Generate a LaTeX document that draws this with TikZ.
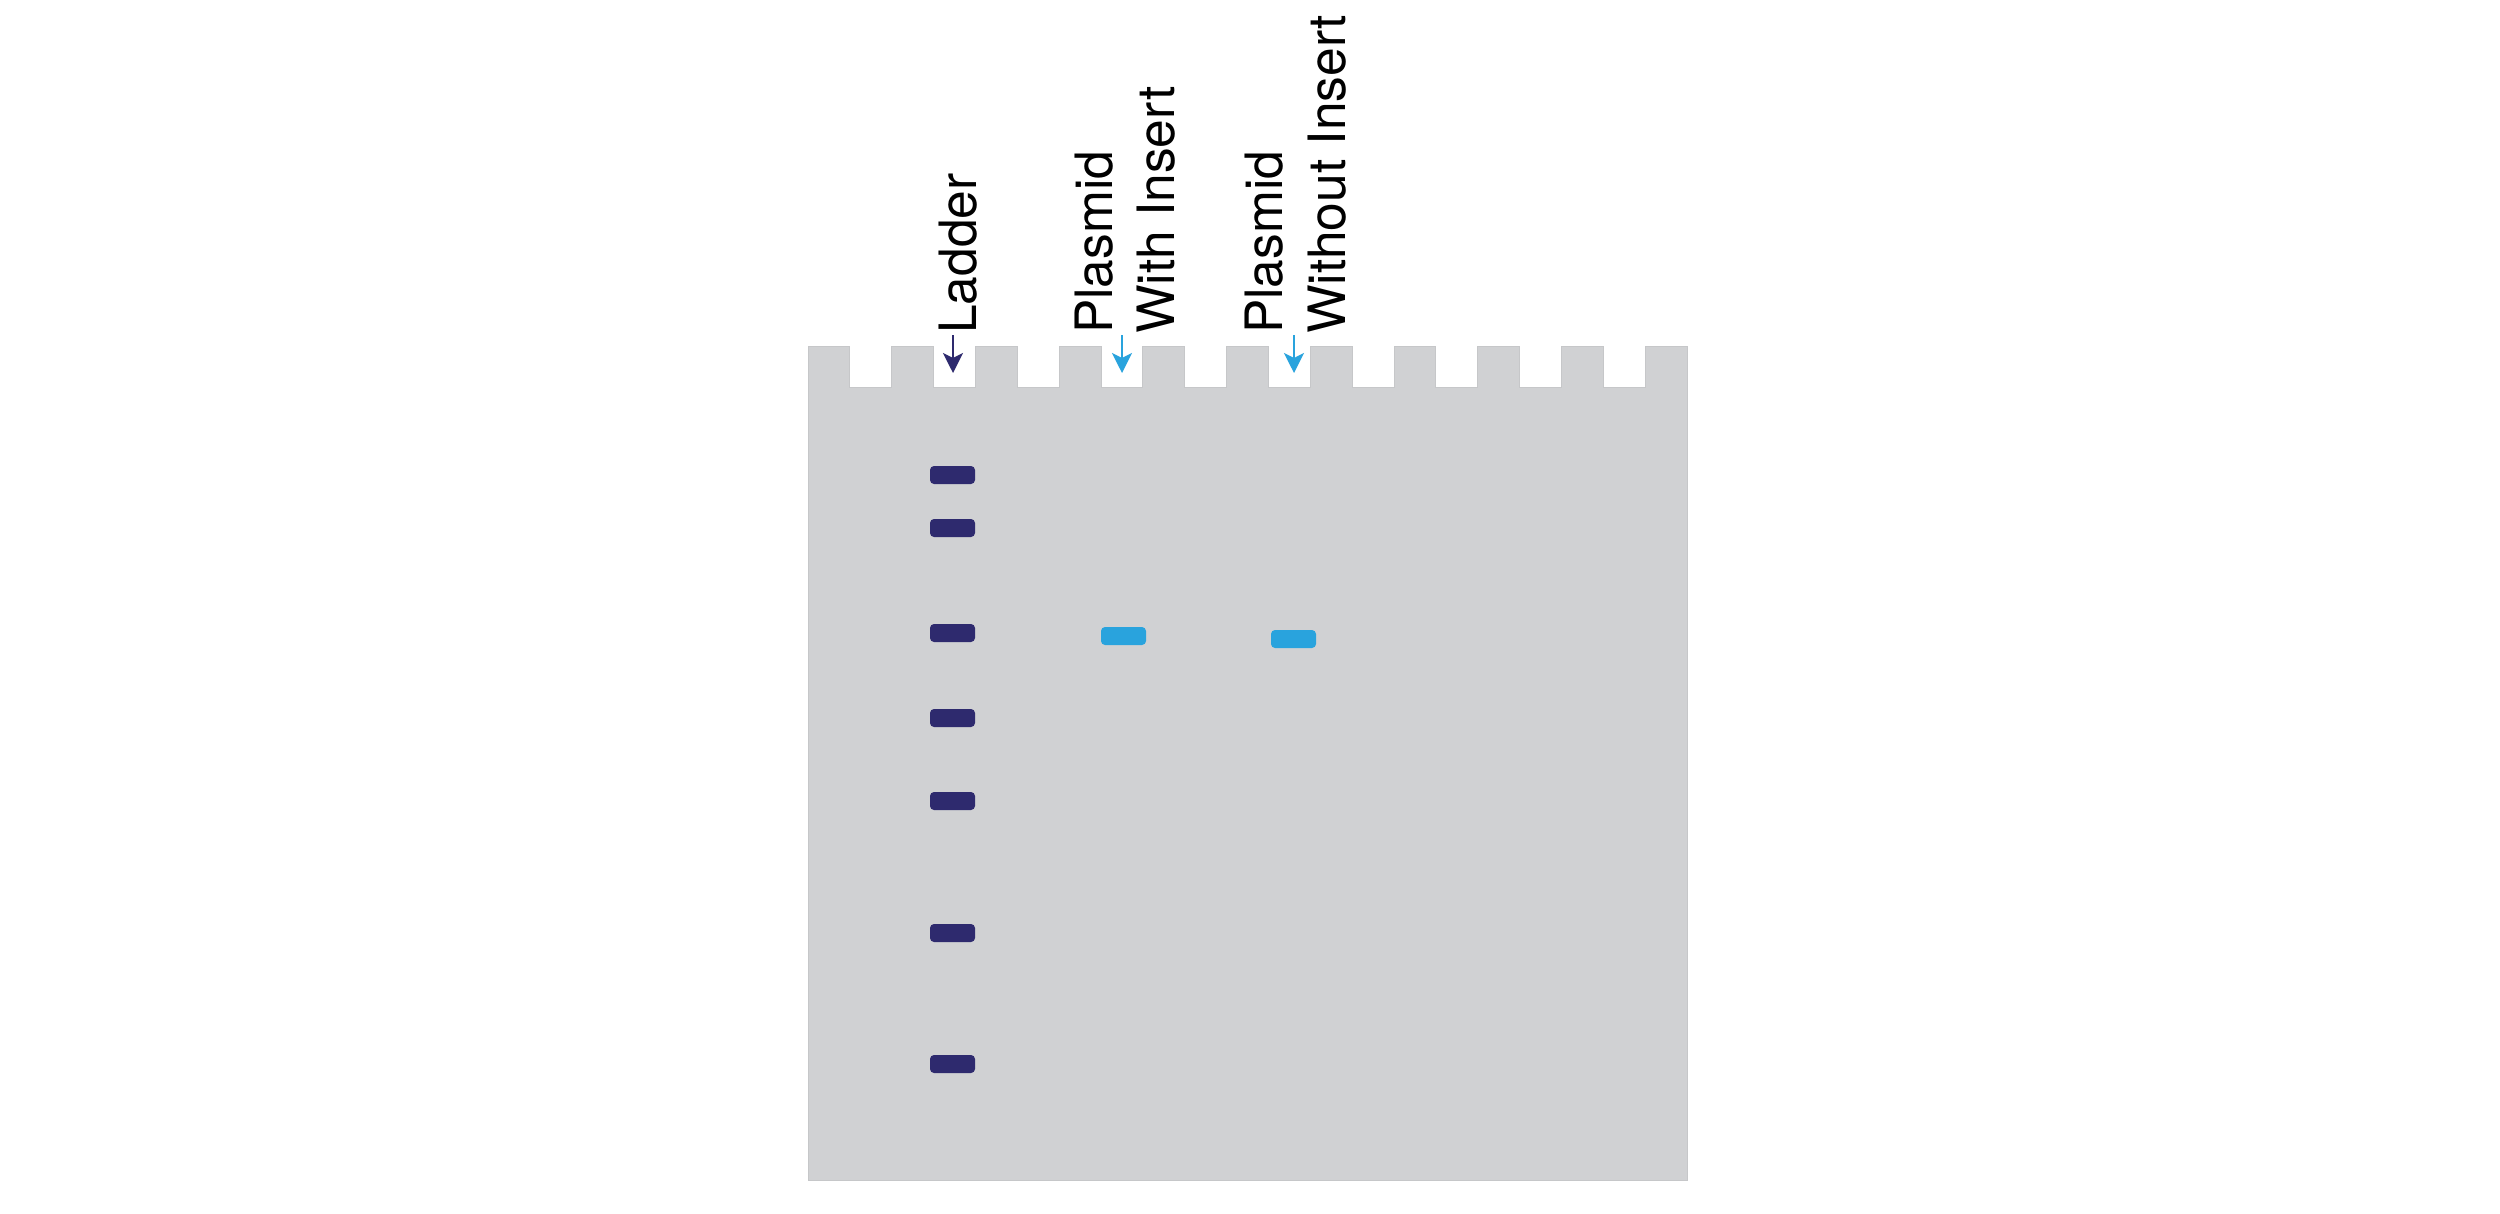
\documentclass[tikz,border=0pt]{standalone}
\usepackage{fontspec}
\setmainfont{TeX Gyre Heros}
\usetikzlibrary{arrows.meta}
\definecolor{gelgray}{RGB}{208,209,211}
\definecolor{geledge}{RGB}{198,199,201}
\definecolor{ladnavy}{RGB}{46,42,110}
\definecolor{plblue}{RGB}{41,163,221}
\tikzset{
  band/.style={rectangle, rounded corners=4pt, minimum width=45pt, minimum height=18pt, inner sep=0pt, outer sep=0pt},
  ladband/.style={band, fill=ladnavy},
  plband/.style={band, fill=plblue},
  lanelabel/.style={rotate=90, anchor=base west, inner sep=0pt, font=\fontsize{51.5}{62}\selectfont},
  wellarrow/.style={line width=2pt, -{Stealth[length=20pt,width=20pt,inset=5pt]}}
}
\begin{document}
\begin{tikzpicture}[x=1pt,y=-1pt]
\useasboundingbox[fill=white] (0,0) rectangle (2500,1213);
% gel with wells
\def\w{41.857}
\fill[gelgray, draw=geledge, line width=1pt]
  (808,1180) -- (808,346)
  \foreach \k in {0,...,9} {
    -- ({808+(2*\k+1)*\w},346) -- ({808+(2*\k+1)*\w},387)
    -- ({808+(2*\k+2)*\w},387) -- ({808+(2*\k+2)*\w},346)
  }
  -- (1687,346) -- (1687,1180) -- cycle;
% ladder bands
\node[ladband] (l1) at (952.5,475) {};
\node[ladband] (l2) at (952.5,528) {};
\node[ladband] (l3) at (952.5,633) {};
\node[ladband] (l4) at (952.5,718) {};
\node[ladband] (l5) at (952.5,801) {};
\node[ladband] (l6) at (952.5,933) {};
\node[ladband] (l7) at (952.5,1064) {};
% plasmid bands
\node[plband] (pwi) at (1123.5,636) {};
\node[plband] (pwo) at (1293.5,639) {};
% labels
\node[lanelabel] (tlad) at (976,334) {Ladder};
\node[lanelabel] (tp1a) at (1112,334) {Plasmid};
\node[lanelabel] (tp1b) at (1174,334) {With Insert};
\node[lanelabel] (tp2a) at (1282,334) {Plasmid};
\node[lanelabel] (tp2b) at (1345,334) {Without Insert};
% arrows
\coordinate (a1s) at (953,335); \coordinate (a1e) at (953,373);
\coordinate (a2s) at (1122,335); \coordinate (a2e) at (1122,373);
\coordinate (a3s) at (1294,335); \coordinate (a3e) at (1294,373);
\draw[wellarrow, ladnavy] (a1s) -- (a1e);
\draw[wellarrow, plblue] (a2s) -- (a2e);
\draw[wellarrow, plblue] (a3s) -- (a3e);
\end{tikzpicture}
\end{document}
